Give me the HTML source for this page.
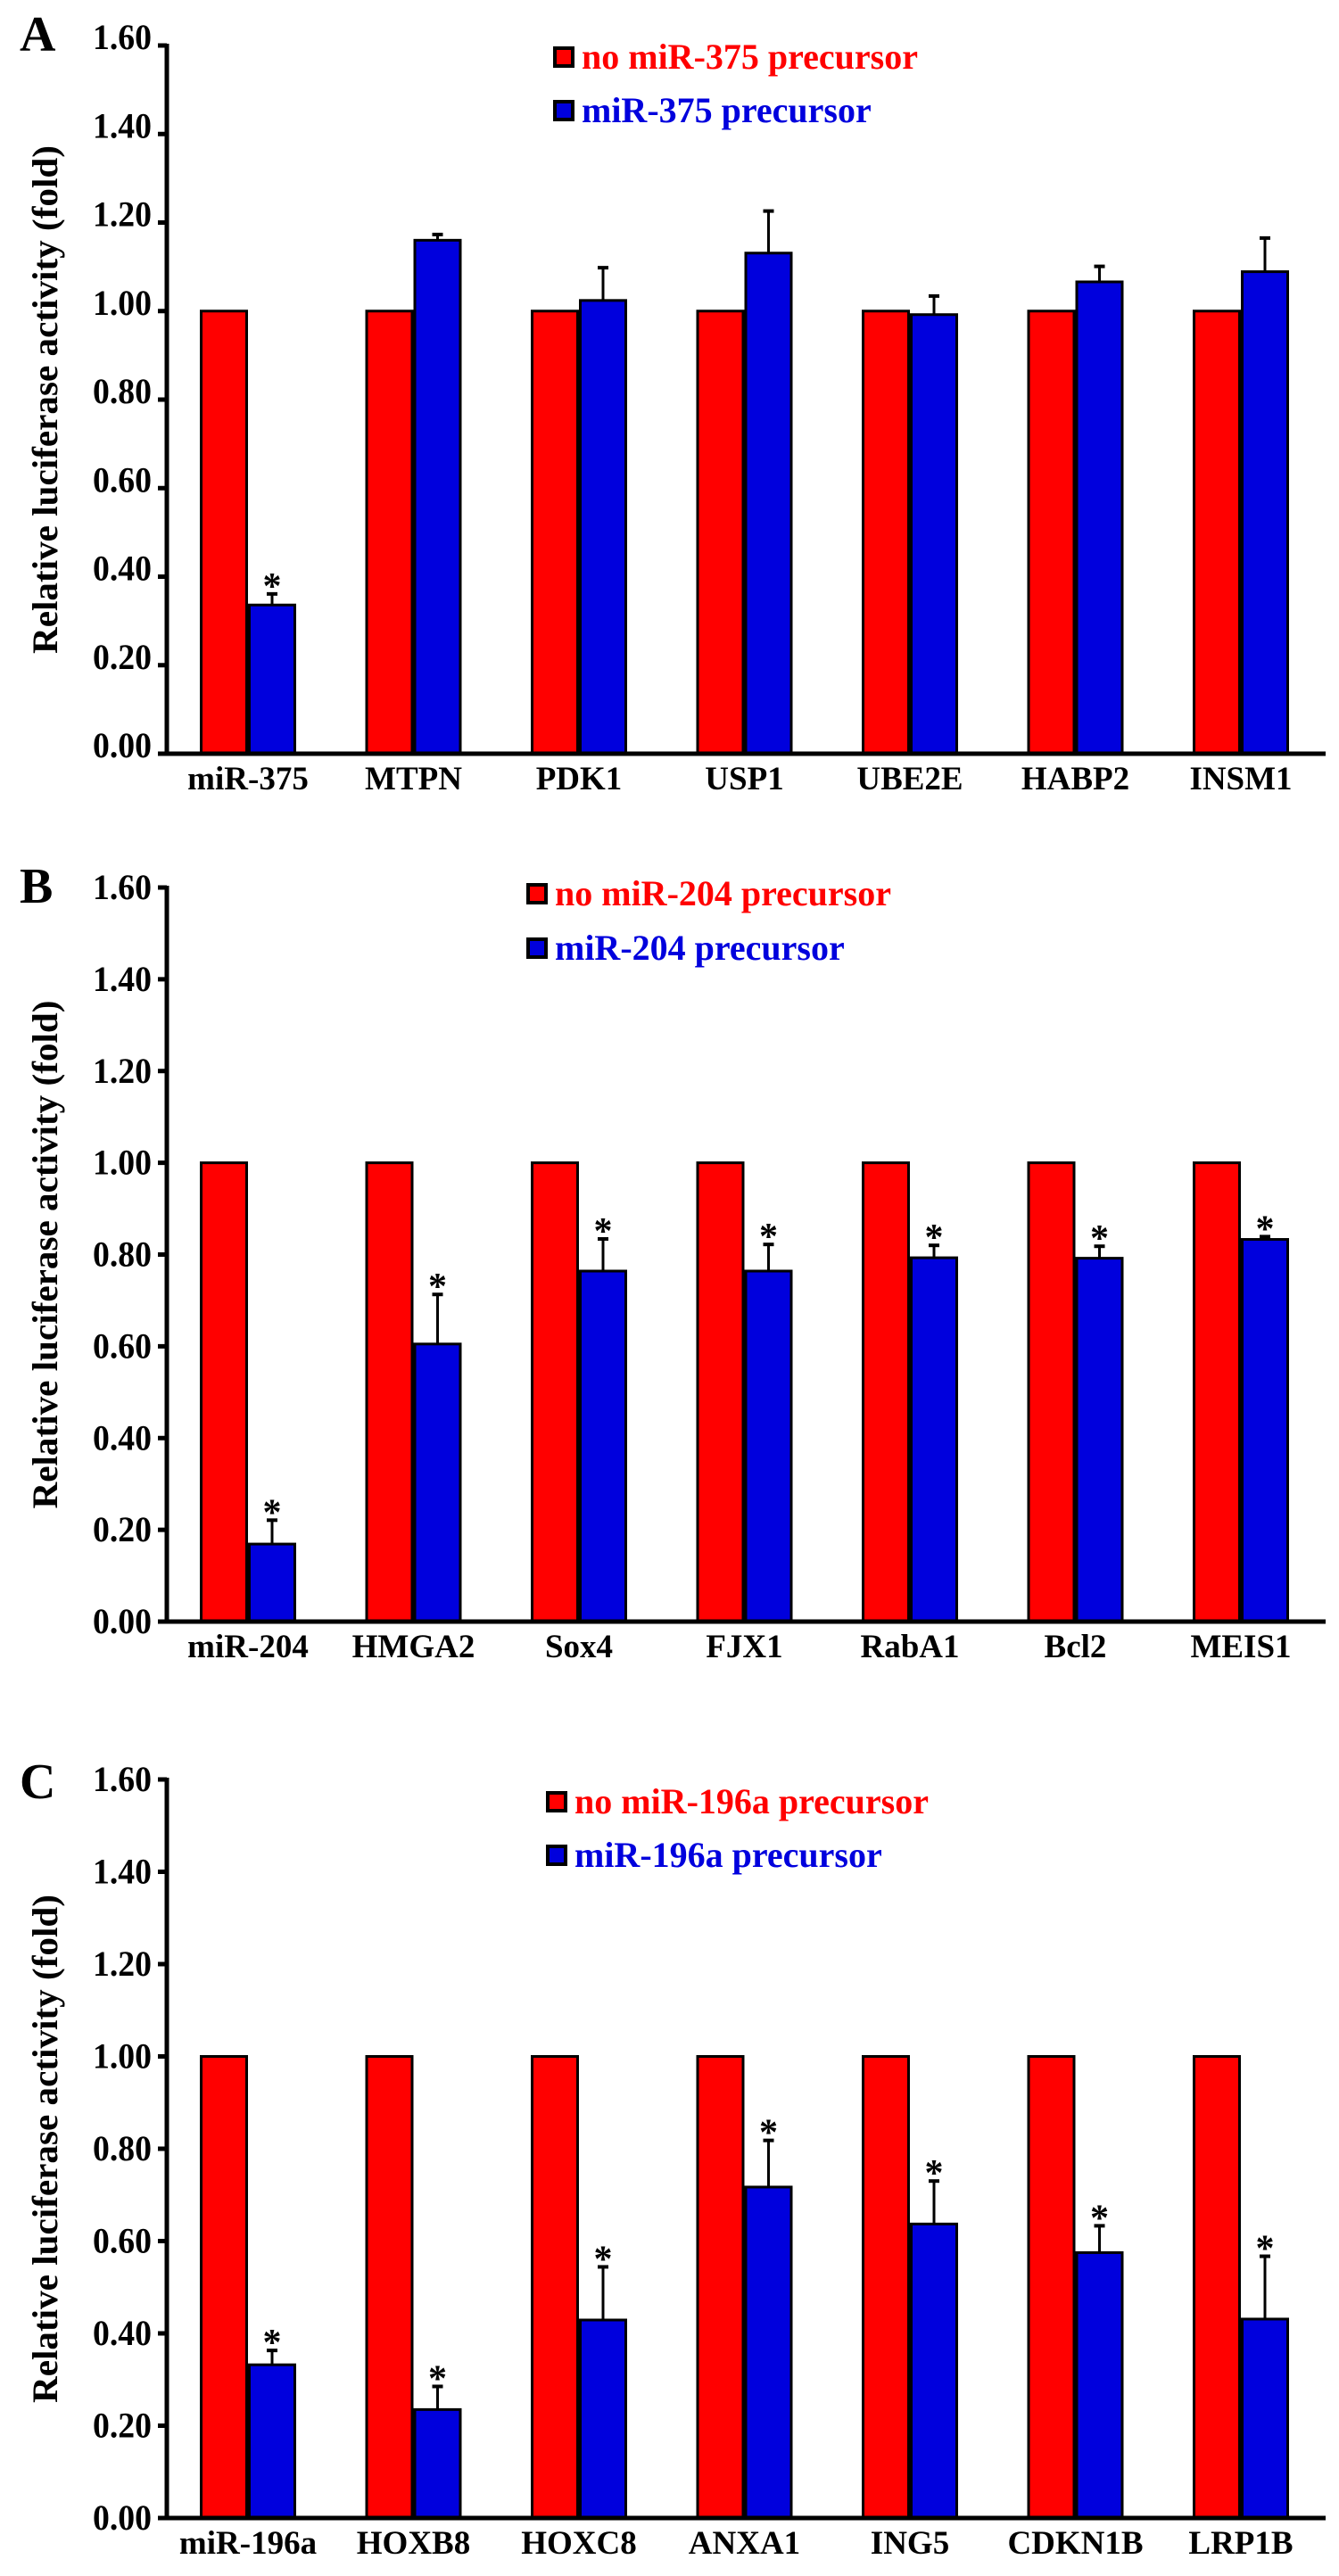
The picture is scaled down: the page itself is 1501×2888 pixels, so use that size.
<!DOCTYPE html>
<html>
<head>
<meta charset="utf-8">
<style>
  html,body{margin:0;padding:0;background:#fff;}
  svg{display:block;}
  text{font-family:"Liberation Serif",serif;font-weight:bold;}
</style>
</head>
<body>
<svg id="fig" width="1501" height="2888" viewBox="0 0 1501 2888" xmlns="http://www.w3.org/2000/svg"></svg>
<script>
// ---------- Panel A data ----------
const catsA = ["miR-375","MTPN","PDK1","USP1","UBE2E","HABP2","INSM1"];
const ctrlA = [1,1,1,1,1,1,1];
const treatA = [0.336,1.16,1.024,1.131,0.992,1.066,1.089];
const errA = [0.363,1.175,1.10,1.228,1.036,1.103,1.167];
const starA = [true,false,false,false,false,false,false];
// ---------- Panel B data ----------
const catsB = ["miR-204","HMGA2","Sox4","FJX1","RabA1","Bcl2","MEIS1"];
const ctrlB = [1,1,1,1,1,1,1];
const treatB = [0.169,0.605,0.764,0.764,0.793,0.792,0.833];
const errB = [0.223,0.715,0.836,0.824,0.822,0.82,0.841];
const starB = [true,true,true,true,true,true,true];
// ---------- Panel C data ----------
const catsC = ["miR-196a","HOXB8","HOXC8","ANXA1","ING5","CDKN1B","LRP1B"];
const ctrlC = [1,1,1,1,1,1,1];
const treatC = [0.332,0.235,0.429,0.717,0.637,0.575,0.431];
const errC = [0.365,0.287,0.546,0.82,0.732,0.635,0.569];
const starC = [true,true,true,true,true,true,true];
// ---------- shared tick labels ----------
const yTicks = [0,0.2,0.4,0.6,0.8,1.0,1.2,1.4,1.6];
const yTickLabels = ["0.00","0.20","0.40","0.60","0.80","1.00","1.20","1.40","1.60"];

const NS = "http://www.w3.org/2000/svg";
const svg = document.getElementById("fig");
function mk(tag, attrs, parent){
  const e = document.createElementNS(NS, tag);
  for (const k in attrs) e.setAttribute(k, attrs[k]);
  (parent||svg).appendChild(e);
  return e;
}

function panel(cfg){
  const g = mk("g", {});
  
  
  const zero = cfg.zero, top = cfg.top;
  const yScale = v => zero - (v/1.6)*(zero-top);
  const axisX = 187;
  const xStart = 224, groupStep = 185.5, barW = 54;
  const xScale = i => xStart + i*groupStep;

  const L = mk("text", {x:22, y:cfg.letterY, "font-size":56, fill:"#000"}, g);
  L.textContent = cfg.letter;
  
  

  const mid = (zero+top)/2;
  const yt = mk("text", {x:0, y:0, "font-size":40, fill:"#000", "text-anchor":"middle",
    textLength:570, lengthAdjust:"spacingAndGlyphs",
    transform:`translate(64,${mid}) rotate(-90)`}, g);
  yt.textContent = "Relative luciferase activity  (fold)";
  
  

  yTicks.forEach((t,i)=>{
    const y = yScale(t);
    const tk = mk("line", {x1:177, x2:axisX, y1:y, y2:y, stroke:"#000", "stroke-width":5}, g);
    
    
    const tl = mk("text", {x:104, y:y+cfg.labelDy, "font-size":40, fill:"#000",
      textLength:66, lengthAdjust:"spacingAndGlyphs"}, g);
    tl.textContent = yTickLabels[i];
    
    
  });

  cfg.cats.forEach((c,i)=>{
    const x0 = xScale(i);
    const r = mk("rect", {x:x0+1.5, y:yScale(cfg.ctrl[i]), width:barW-3, height:zero-yScale(cfg.ctrl[i]),
      fill:"#ff0000", stroke:"#000", "stroke-width":3}, g);
    
    
    const bx = x0+barW;
    const yb = yScale(cfg.treat[i]);
    const ye = yScale(cfg.err[i]);
    const cx = bx + barW/2;
    const el = mk("line", {x1:cx, x2:cx, y1:yb, y2:ye, stroke:"#000", "stroke-width":3}, g);
    
    
    const ec = mk("line", {x1:cx-6, x2:cx+6, y1:ye+1, y2:ye+1, stroke:"#000", "stroke-width":4}, g);
    
    
    const b = mk("rect", {x:bx+1.5, y:yb, width:barW-3, height:zero-yb,
      fill:"#0000dd", stroke:"#000", "stroke-width":3}, g);
    
    
    if (cfg.star[i]) {
      const s = mk("text", {x:cx, y:ye+6, "font-size":42, fill:"#000", "text-anchor":"middle"}, g);
      s.textContent = "*";
      
      
    }
    const xl = mk("text", {x:x0+barW, y:zero+40, "font-size":37, fill:"#000", "text-anchor":"middle"}, g);
    xl.textContent = c;
    
    
  });

  const ya = mk("line", {x1:axisX, x2:axisX, y1:top-2, y2:zero+2, stroke:"#000", "stroke-width":5}, g);
  
  
  const xa = mk("line", {x1:177, x2:1486, y1:zero, y2:zero, stroke:"#000", "stroke-width":5}, g);
  
  

  const lg = mk("g", {}, g);
  
  
  [[cfg.leg1, "#ff0000", cfg.legY1], [cfg.leg2, "#0000dd", cfg.legY2]].forEach(([txt,col,y])=>{
    const bx = mk("rect", {x:cfg.legX+2, y:y-10, width:20, height:20, fill:col, stroke:"#000", "stroke-width":4}, lg);
    
    
    const t = mk("text", {x:cfg.legX+32, y:y+13, "font-size":40, fill:col}, lg);
    t.textContent = txt;
    
    
  });
}

panel({letter:"A", letterY:57, top:51, zero:845, labelDy:4, cats:catsA, ctrl:ctrlA, treat:treatA, err:errA, star:starA,
  leg1:"no miR-375 precursor", leg2:"miR-375 precursor", legX:620, legY1:64, legY2:124});
panel({letter:"B", letterY:1012, top:995, zero:1818, labelDy:13, cats:catsB, ctrl:ctrlB, treat:treatB, err:errB, star:starB,
  leg1:"no miR-204 precursor", leg2:"miR-204 precursor", legX:590, legY1:1002, legY2:1063});
panel({letter:"C", letterY:2016, top:1995, zero:2823, labelDy:13, cats:catsC, ctrl:ctrlC, treat:treatC, err:errC, star:starC,
  leg1:"no miR-196a precursor", leg2:"miR-196a precursor", legX:612, legY1:2020, legY2:2080});
</script>
</body>
</html>
